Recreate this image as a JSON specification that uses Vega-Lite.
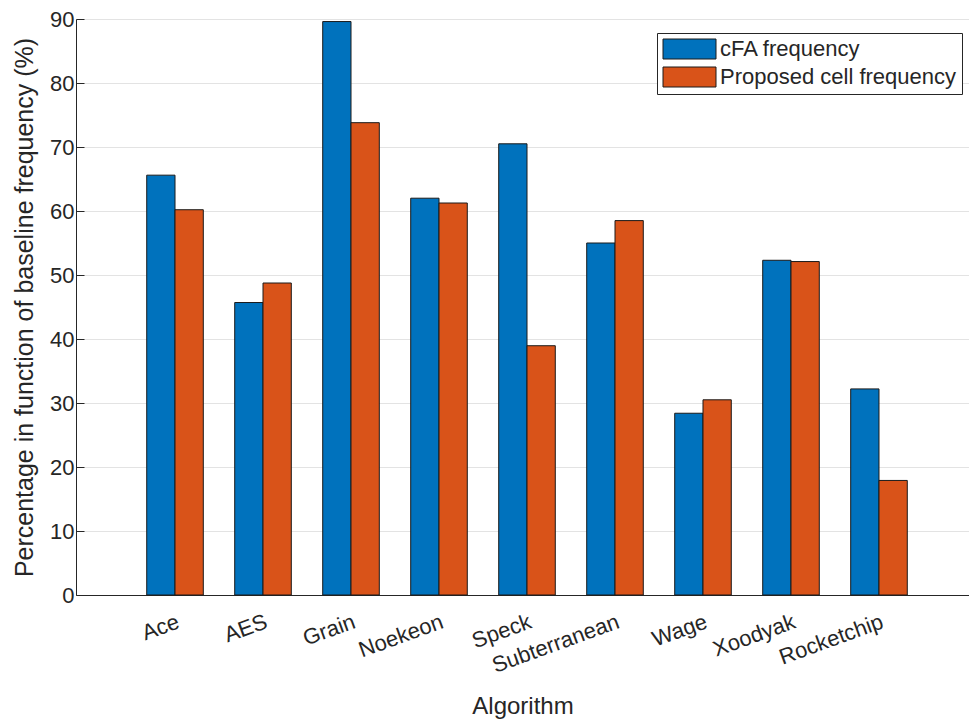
{
  "$schema": "https://vega.github.io/schema/vega-lite/v6.json",
  "width": 893,
  "height": 576,
  "autosize": {"type": "none"},
  "padding": {"left": 76, "top": 19, "right": 0, "bottom": 125},
  "background": "white",
  "config": {
    "view": {"stroke": null},
    "font": "Liberation Sans",
    "axis": {"labelColor": "#262626", "titleColor": "#262626", "domainColor": "#262626", "tickColor": "#262626", "labelFont": "Liberation Sans", "titleFont": "Liberation Sans", "titleFontWeight": "normal"}
  },
  "data": {
    "values": [
      {"Algorithm": "Ace", "Series": "cFA frequency", "Value": 65.6},
      {"Algorithm": "Ace", "Series": "Proposed cell frequency", "Value": 60.2},
      {"Algorithm": "AES", "Series": "cFA frequency", "Value": 45.7},
      {"Algorithm": "AES", "Series": "Proposed cell frequency", "Value": 48.75},
      {"Algorithm": "Grain", "Series": "cFA frequency", "Value": 89.6},
      {"Algorithm": "Grain", "Series": "Proposed cell frequency", "Value": 73.8},
      {"Algorithm": "Noekeon", "Series": "cFA frequency", "Value": 62.0},
      {"Algorithm": "Noekeon", "Series": "Proposed cell frequency", "Value": 61.25},
      {"Algorithm": "Speck", "Series": "cFA frequency", "Value": 70.5},
      {"Algorithm": "Speck", "Series": "Proposed cell frequency", "Value": 38.95},
      {"Algorithm": "Subterranean", "Series": "cFA frequency", "Value": 55.0},
      {"Algorithm": "Subterranean", "Series": "Proposed cell frequency", "Value": 58.5},
      {"Algorithm": "Wage", "Series": "cFA frequency", "Value": 28.4},
      {"Algorithm": "Wage", "Series": "Proposed cell frequency", "Value": 30.5},
      {"Algorithm": "Xoodyak", "Series": "cFA frequency", "Value": 52.3},
      {"Algorithm": "Xoodyak", "Series": "Proposed cell frequency", "Value": 52.1},
      {"Algorithm": "Rocketchip", "Series": "cFA frequency", "Value": 32.2},
      {"Algorithm": "Rocketchip", "Series": "Proposed cell frequency", "Value": 17.9}
    ]
  },
  "mark": {"type": "bar", "stroke": "#1a1a1a", "strokeWidth": 1, "opacity": 1},
  "encoding": {
    "x": {
      "field": "Algorithm",
      "type": "nominal",
      "sort": null,
      "scale": {"paddingInner": 0.357, "paddingOuter": 0.7525, "align": 0.534},
      "axis": {
        "title": "Algorithm",
        "titleFontSize": 24,
        "titlePadding": 18,
        "labelFontSize": 22,
        "labelAngle": -20,
        "labelAlign": "right",
        "labelBaseline": "top",
        "labelPadding": 16,
        "ticks": false,
        "domainWidth": 1,
        "grid": false
      }
    },
    "xOffset": {
      "field": "Series",
      "type": "nominal",
      "sort": ["cFA frequency", "Proposed cell frequency"],
      "scale": {"paddingInner": 0, "paddingOuter": 0}
    },
    "y": {
      "field": "Value",
      "type": "quantitative",
      "scale": {"domain": [0, 90], "nice": false, "zero": true},
      "axis": {
        "title": "Percentage in function of baseline frequency (%)",
        "titleFontSize": 25,
        "titlePadding": 12,
        "labelFontSize": 22,
        "values": [0, 10, 20, 30, 40, 50, 60, 70, 80, 90],
        "tickSize": -8,
        "labelPadding": 10,
        "grid": true,
        "gridColor": "#e3e3e3",
        "gridWidth": 1,
        "domainWidth": 1
      }
    },
    "color": {
      "field": "Series",
      "type": "nominal",
      "sort": ["cFA frequency", "Proposed cell frequency"],
      "scale": {"domain": ["cFA frequency", "Proposed cell frequency"], "range": ["#0072BD", "#D95319"]},
      "legend": {
        "title": null,
        "orient": "none",
        "legendX": 581,
        "legendY": 14,
        "symbolType": "M-1,-1H4.3V1H-1Z",
        "symbolSize": 400,
        "symbolStrokeColor": "#1a1a1a",
        "symbolStrokeWidth": 1,
        "symbolOpacity": 1,
        "labelFontSize": 22,
        "labelFont": "Liberation Sans",
        "labelColor": "#262626",
        "labelLimit": 0,
        "labelOffset": 36,
        "strokeColor": "#262626",
        "fillColor": "white",
        "padding": 5,
        "rowPadding": 4
      }
    }
  }
}
